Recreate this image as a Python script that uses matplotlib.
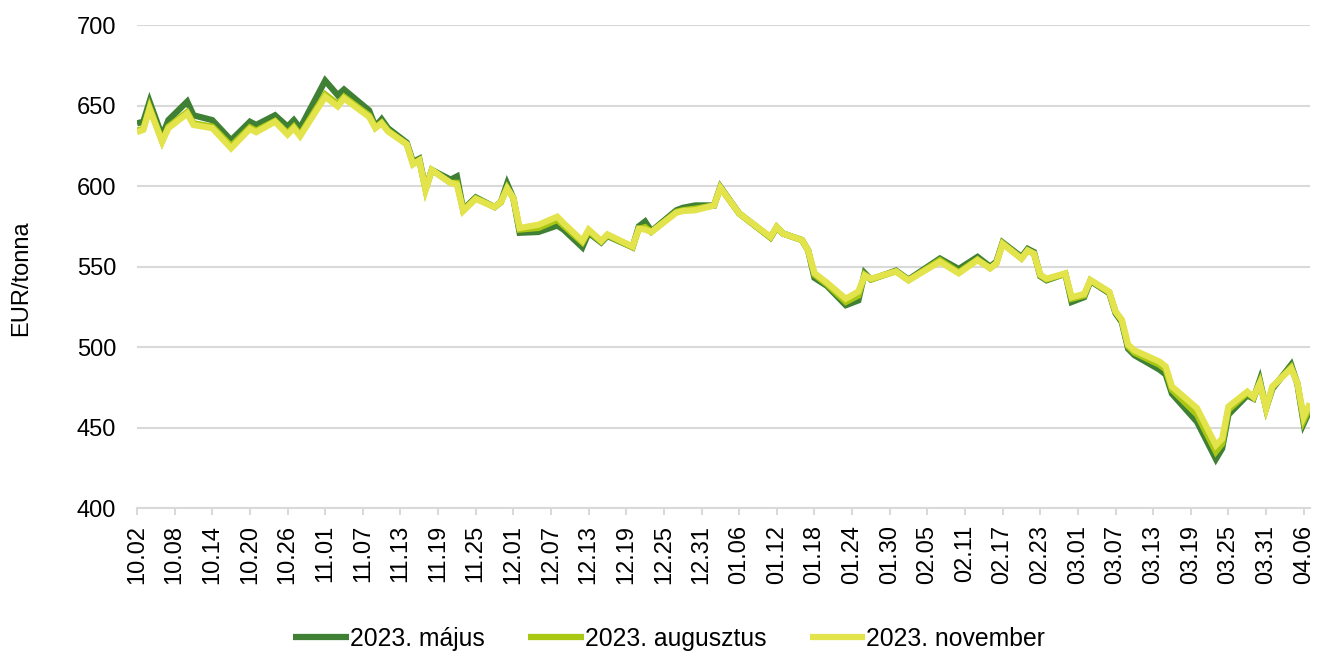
import matplotlib
matplotlib.use("Agg")
import matplotlib.pyplot as plt
import matplotlib.dates as mdates
import pandas as pd

plt.rcParams['font.family'] = ['Liberation Sans', 'DejaVu Sans']

# trading days
dates = [
    "2022-10-02", "2022-10-03", "2022-10-04", "2022-10-06", "2022-10-07",
    "2022-10-10", "2022-10-11", "2022-10-14", "2022-10-17", "2022-10-20",
    "2022-10-21", "2022-10-24", "2022-10-26", "2022-10-27", "2022-10-28",
    "2022-11-01", "2022-11-03", "2022-11-04", "2022-11-08", "2022-11-09",
    "2022-11-10", "2022-11-11", "2022-11-14", "2022-11-15", "2022-11-16",
    "2022-11-17", "2022-11-18", "2022-11-21", "2022-11-22", "2022-11-23",
    "2022-11-25", "2022-11-28", "2022-11-29", "2022-11-30", "2022-12-01",
    "2022-12-02", "2022-12-05", "2022-12-08", "2022-12-09", "2022-12-12",
    "2022-12-13", "2022-12-15", "2022-12-16", "2022-12-20", "2022-12-21",
    "2022-12-22", "2022-12-23", "2022-12-27", "2022-12-28", "2022-12-30",
    "2023-01-02", "2023-01-03", "2023-01-06", "2023-01-11", "2023-01-12",
    "2023-01-13", "2023-01-16", "2023-01-17", "2023-01-18", "2023-01-20",
    "2023-01-23", "2023-01-25", "2023-01-26", "2023-01-27", "2023-01-31",
    "2023-02-02", "2023-02-07", "2023-02-10", "2023-02-13", "2023-02-15",
    "2023-02-16", "2023-02-17", "2023-02-20", "2023-02-21", "2023-02-22",
    "2023-02-23", "2023-02-24", "2023-02-27", "2023-02-28", "2023-03-02",
    "2023-03-03", "2023-03-06", "2023-03-07", "2023-03-08", "2023-03-09",
    "2023-03-10", "2023-03-14", "2023-03-15", "2023-03-16", "2023-03-20",
    "2023-03-23", "2023-03-24", "2023-03-25", "2023-03-28", "2023-03-29",
    "2023-03-30", "2023-03-31", "2023-04-01", "2023-04-04", "2023-04-05",
    "2023-04-06", "2023-04-07",
]

may = [
    639, 640, 652.5, 631, 641,
    652.5, 644, 641, 628.5, 640,
    638, 644, 637, 641, 636,
    665.5, 656.5, 660, 647, 637,
    641.5, 636, 627, 615, 617,
    598.5, 610, 604, 606, 585.5,
    593, 587, 590, 601.5, 592.5,
    571, 571.5, 575.5, 573, 562,
    571, 565, 569, 562, 575,
    578, 572, 585, 586.5, 588,
    588, 599.5, 583, 568, 574.5,
    570.5, 566.5, 560, 543, 538,
    526, 529, 546, 542, 547.5,
    542, 555, 548.5, 556, 550,
    553, 565, 556, 561, 559,
    544, 541.5, 545.5, 528, 531,
    541, 533.5, 521, 515.5, 499,
    495, 486, 483, 471, 453.5,
    430.5, 437, 458, 470, 468,
    479.5, 462, 474, 489, 477,
    452.5, 461,
]

aug = [
    634.5, 635.5, 649, 628, 637,
    646, 639, 637, 625, 636.5,
    634.5, 640.5, 633, 637, 632,
    657, 651, 655.5, 644, 636.5,
    639.5, 634.5, 626, 614, 616,
    598, 610, 602, 602, 585,
    592.5, 587, 590, 599, 592.5,
    573, 574, 579, 575.5, 565,
    572, 565.5, 569.5, 562, 573.5,
    574.5, 571.5, 584, 585, 586,
    588, 599, 583, 568, 574.5,
    570.5, 566.5, 560, 545, 539,
    528, 532, 545, 542, 547,
    541.5, 554, 546.5, 554.5, 549,
    552, 564.5, 555, 560, 558,
    544.5, 542, 545.5, 530, 532,
    541.5, 534, 522, 516.5, 500.5,
    496.5, 489, 486, 473.5, 458,
    435, 440, 461, 471.5, 468.5,
    478, 462, 475, 487.5, 477.5,
    454.5, 463,
]

nov = [
    633.5, 635, 648, 627.5, 636,
    645, 638, 636, 623.5, 635.5,
    633.5, 640, 632, 636, 631,
    655.5, 649.5, 654.5, 643, 636,
    639, 634, 626, 613.5, 616,
    597.5, 610, 602, 601, 584.5,
    592, 587, 590, 598.5, 592.5,
    574, 576, 581, 577, 566,
    573, 566, 570, 562.5, 573.5,
    573, 571.5, 583.5, 584.5, 585,
    588, 599, 583, 568.5, 574.7,
    570.5, 566.5, 560, 546, 540,
    530, 534.5, 544.5, 542.5, 547,
    541.5, 553, 545.8, 554, 549,
    552, 564, 555, 560, 558,
    545, 542.5, 545.8, 531, 533,
    541.6, 534.4, 522, 517, 501.5,
    498, 491, 488, 475.5, 462,
    439, 443, 463, 472.3, 469,
    477.5, 462, 475.5, 486.7, 477.5,
    456.7, 465,
]

labels = ["2023. május", "2023. augusztus", "2023. november"]
colors = ["#3f8035", "#a9c814", "#e3e34b"]

x = pd.to_datetime(dates)

fig = plt.figure(figsize=(13.2, 6.53), dpi=100)
ax = fig.add_axes([0.1038, 0.222, 0.8886, 0.7395])

for vals, lab, col in zip([may, aug, nov], labels, colors):
    ax.plot(x, vals, color=col, linewidth=4.5, label=lab,
            solid_joinstyle='miter', solid_capstyle='butt')

ax.set_ylim(400, 700)
ax.set_yticks(range(400, 701, 50))
ax.set_xlim(pd.Timestamp("2022-10-02"), pd.Timestamp("2023-04-07"))
ticks = pd.date_range("2022-10-02", periods=32, freq="6D")
ax.set_xticks(ticks)
ax.xaxis.set_major_formatter(mdates.DateFormatter("%m.%d"))

ax.grid(axis='y', color='#d9d9d9', linewidth=1.5)
ax.set_axisbelow(True)
for s in ['top', 'right', 'left']:
    ax.spines[s].set_visible(False)
ax.spines['bottom'].set_color('#d9d9d9')
ax.spines['bottom'].set_linewidth(1.5)

ax.tick_params(axis='y', length=0, pad=15, labelsize=17, colors='black')
ax.tick_params(axis='x', length=5, width=1.5, color='#d9d9d9', pad=7,
               labelsize=17, labelrotation=90)

fig.text(21 / 1320, 1 - 278 / 653, "EUR/tonna", rotation=90, fontsize=17,
         ha='center', va='center')

fig.legend(loc='center', bbox_to_anchor=(0.507, 0.022), ncol=3, frameon=False,
           fontsize=17.8, handlelength=2.25, handletextpad=0.05,
           columnspacing=1.75)

fig.savefig("out.png", dpi=100)
